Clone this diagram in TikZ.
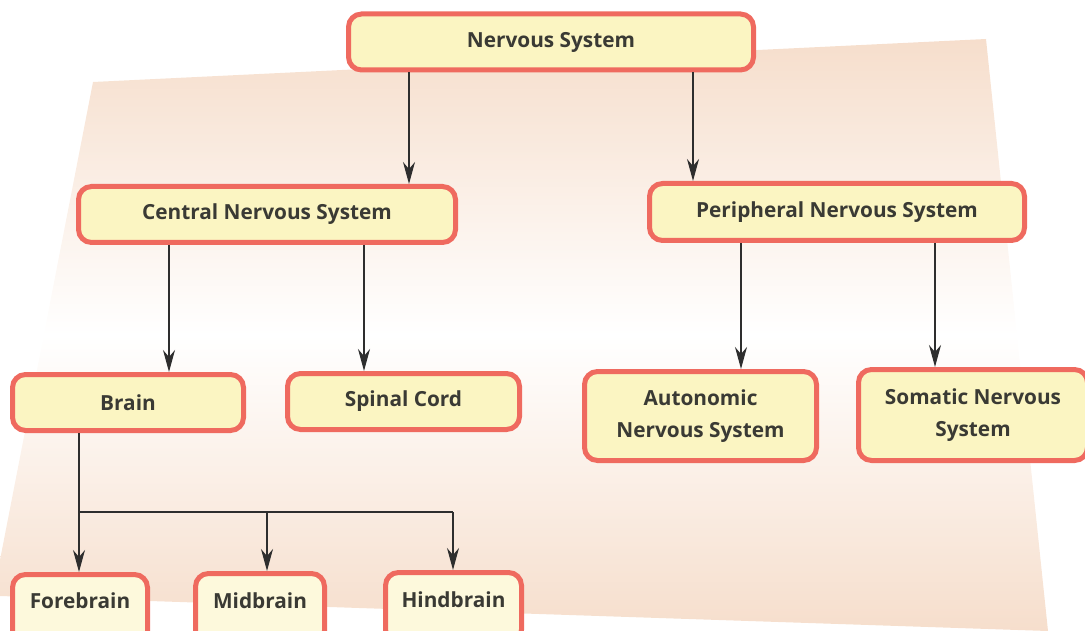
\documentclass[tikz,border=0pt]{standalone}
\usepackage{fontspec}
\setmainfont{Open Sans}
\usetikzlibrary{arrows.meta}
\definecolor{boxred}{HTML}{EF6A5F}
\definecolor{boxfill}{HTML}{FBF5C2}
\definecolor{boxfillb}{HTML}{FDF9DC}
\definecolor{peach}{HTML}{F6DECC}
\definecolor{txt}{HTML}{3A3A34}
\definecolor{arr}{HTML}{2E2E2E}
\begin{document}
\begin{tikzpicture}[x=1pt,y=-1pt,
  box/.style={draw=boxred, line width=5pt, fill=boxfill, rounded corners=13pt,
    font=\bfseries\fontsize{20.8}{32}\selectfont, text=txt, align=center, inner sep=0pt},
  lowbox/.style={box, fill=boxfillb},
  lbl/.style={font=\bfseries\fontsize{20.8}{32}\selectfont, text=txt, inner sep=0pt},
  conn/.style={draw=arr, line width=1.5pt, -{Stealth[length=22pt,width=12pt,inset=7pt]}},
  wire/.style={draw=arr, line width=1.5pt}]
\useasboundingbox (0,0) rectangle (1085,631);
\shade[top color=peach, bottom color=peach, middle color=white]
  (93,82) -- (986,39) -- (1048,631) -- (0,596) -- (0,560) -- cycle;

\node[box, minimum width=405, minimum height=56] (ns) at (551,42) {Nervous System};
\node[box, minimum width=377, minimum height=56] (cns) at (267,214.5) {Central Nervous System};
\node[box, minimum width=375, minimum height=57] (pns) at (837,212) {Peripheral Nervous System};
\node[box, minimum width=231, minimum height=56] (brain) at (128,402.5) {Brain};
\node[box, minimum width=232, minimum height=56] (spinal) at (403.5,401.5) {Spinal Cord};
\node[box, minimum width=232, minimum height=89] (auto) at (700.5,416) {Autonomic\\Nervous System};
\node[box, minimum width=229, minimum height=91] (soma) at (973,415) {Somatic Nervous\\System};

\node[lowbox, minimum width=135, minimum height=70] (fore) at (80,609.5) {};
\node[lbl] (foret) at (80,601) {Forebrain};
\node[lowbox, minimum width=129, minimum height=70] (mid) at (260,608.5) {};
\node[lbl] (midt) at (260,601) {Midbrain};
\node[lowbox, minimum width=136, minimum height=70] (hind) at (453.5,607.5) {};
\node[lbl] (hindt) at (453.5,600) {Hindbrain};

\draw[conn] (ns.south -| 409,0) -- (cns.north -| 409,0);
\draw[conn] (ns.south -| 693,0) -- (pns.north -| 693,0);
\draw[conn] (cns.south -| 169,0) -- (brain.north -| 169,0);
\draw[conn] (cns.south -| 364,0) -- (spinal.north -| 364,0);
\draw[conn] (pns.south -| 741,0) -- (auto.north -| 741,0);
\draw[conn] (pns.south -| 935,0) -- (soma.north -| 935,0);

\coordinate (bj) at (79,512);
\coordinate (mj) at (267,512);
\coordinate (hj) at (453,512);
\draw[wire] (brain.south -| bj) -- (bj) -- (hj);
\draw[conn] (bj) -- (fore.north -| bj);
\draw[conn] (mj) -- (mid.north -| mj);
\draw[conn] (hj) -- (hind.north -| hj);
\end{tikzpicture}
\end{document}
